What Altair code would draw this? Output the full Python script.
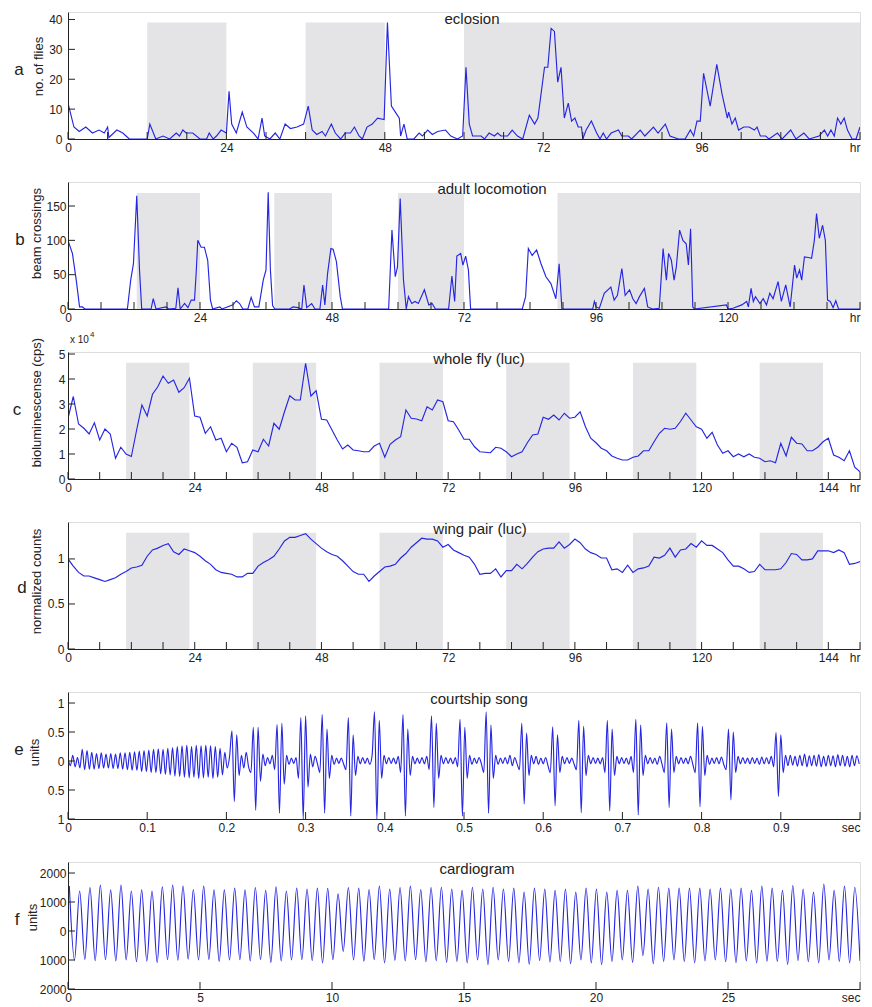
import altair as alt
import pandas as pd

FONT = "Liberation Sans"
LINE = "#2626e2"
SHADE = "#e4e4e7"
INK = "#222222"
W, H = 792, 127
TICK = 7

# ---------------- a : eclosion (hr, no. of flies) ----------------
ecl_points = [
    (0, 12), (0.9, 4), (1.7, 2.5), (2.7, 4), (3.7, 2), (4.7, 3), (5.5, 2), (6, 4), (6.2, 0.5), (7.4, 3),
    (8.3, 2), (8.8, 1), (9.3, 0), (12, 0), (12.4, 5), (13.3, 0), (14.4, 1), (15.4, 0), (16.4, 2), (16.9, 1),
    (17.4, 3), (17.9, 2), (18.9, 2), (20, 0), (21, 0), (21.4, 2), (22, 0), (22.5, 1), (23.2, 3), (24, 2),
    (24.4, 16), (24.8, 5), (25.5, 2), (26.4, 9), (27.1, 4), (28.1, 2), (28.8, 0), (29.4, 7), (29.8, 1), (30.6, 0),
    (31.4, 2), (32.1, 0), (32.9, 5), (33.7, 3.5), (34.7, 4), (35.7, 5), (36.4, 11), (37, 3), (37.7, 1.5), (38.5, 2.5),
    (39, 1), (39.9, 5), (40.5, 2), (41.3, 0), (42, 2), (42.8, 2), (43.4, 4), (44.1, 1), (44.6, 0), (45.3, 4),
    (46.1, 5), (46.9, 7), (47.9, 6.5), (48.4, 39), (49, 11), (49.6, 9), (50.2, 7), (50.4, 1), (50.9, 5), (51.4, 0),
    (52.4, 0), (53.2, 2), (53.7, 1), (54.5, 3), (55.2, 1.5), (56, 2.5), (57.2, 3), (58, 1), (59, 0), (59.8, 1),
    (60.3, 24), (60.8, 5), (61.3, 1), (62.6, 1), (63.1, 0), (63.8, 2), (64.6, 1), (65.1, 2), (65.6, 1), (66.6, 1),
    (67.3, 3), (68.1, 1), (68.9, 0), (69.9, 8), (70.7, 5), (71.2, 7), (72.2, 24), (72.7, 24), (73.2, 37), (73.7, 36),
    (74.2, 19), (74.7, 24), (75.2, 7), (75.8, 12), (76.3, 6), (76.8, 7), (77.3, 4), (77.8, 4), (78.0, 0), (78.5, 3),
    (79.3, 6), (80.1, 2), (80.6, 0), (81.1, 2), (81.6, 0), (82.3, 2), (83.4, 3), (83.9, 1), (84.9, 1), (85.4, 0),
    (86.7, 3), (87.4, 1), (88.7, 4), (89.4, 2), (90.5, 5), (91.2, 1), (92.5, 0), (93.5, 0), (94.3, 3), (94.8, 1),
    (95.3, 6), (95.8, 6), (96.3, 22), (97.3, 11), (98.3, 25), (99.1, 15), (99.9, 7), (100.1, 9), (100.6, 5), (101.1, 7),
    (101.6, 3), (102.4, 4), (103.2, 4), (104, 3), (104.4, 4), (104.9, 1), (105.7, 1), (106.2, 0), (107.5, 2), (108.2, 0),
    (109.5, 3), (110.3, 0), (111.5, 2), (112.3, 0), (113.8, 1), (114.6, 3), (115.1, 1), (115.6, 3), (116.1, 1), (116.6, 7),
    (117.1, 5), (117.6, 7), (118.1, 3), (118.8, 0), (119.4, 0), (120, 4),
]
ecl_dark_start = [12, 36, 60]
ecl_dark_end = [24, 48, 120]
ecl_dark_top = 39

# ---------------- b : adult locomotion (hr, beam crossings) ----------------
loc_points = [
    (0, 100), (0.8, 81), (1.5, 42), (2.1, 3), (2.6, 3), (3.1, 0), (10.8, 0), (11.4, 42), (11.9, 66), (12.5, 165),
    (13, 57), (13.4, 0), (15.1, 0), (15.5, 15), (16, 0), (17.8, 3), (18.3, 0), (19.6, 1), (20, 31), (20.4, 0),
    (21.2, 8), (21.8, 2), (22.4, 13), (23, 13), (23.3, 52), (23.6, 100), (24.2, 90), (24.8, 90), (25.4, 71), (25.9, 13),
    (26.3, 0), (27.6, 3), (28, 0), (30, 6), (30.6, 12), (31.2, 8), (31.8, 0), (32.7, 0), (33.3, 17), (33.9, 3),
    (34.7, 3), (35.5, 42), (36, 57), (36.4, 170), (36.8, 57), (37.2, 5), (37.6, 0), (40.3, 0), (40.9, 3), (41.8, 2),
    (42.5, 0), (42.9, 35), (43.4, 2), (44.3, 8), (44.9, 0), (45.8, 0), (46.3, 35), (46.7, 6), (47.2, 52), (47.8, 88),
    (48.2, 87), (48.8, 69), (49.5, 18), (49.9, 0), (58.3, 0), (58.9, 115), (59.5, 47), (59.9, 61), (60.4, 161), (61, 42),
    (61.5, 0), (61.9, 18), (62.5, 8), (63.1, 11), (63.7, 8), (64.8, 28), (65.6, 6), (66.2, 8), (66.8, 0), (69.2, 0),
    (69.8, 48), (70.3, 11), (70.7, 77), (71.4, 81), (71.8, 64), (72.3, 77), (72.8, 57), (73.2, 0), (82.6, 0), (83.2, 18),
    (83.7, 88), (84.4, 78), (85.2, 86), (86, 66), (86.9, 47), (87.8, 37), (88.7, 15), (89.3, 66), (89.8, 0), (95.4, 0),
    (95.7, 11), (96, 3), (96.6, 1), (97.5, 23), (98.7, 32), (99.3, 13), (99.9, 20), (100.7, 59), (101.3, 20), (102.1, 28),
    (102.7, 15), (103.3, 8), (103.9, 18), (104.8, 30), (105.4, 3), (106.3, 0), (107.5, 1), (108.2, 88), (108.8, 42), (109.2, 81),
    (109.7, 71), (110.2, 42), (110.6, 61), (111.2, 115), (111.8, 100), (112.4, 95), (112.8, 64), (113.2, 117), (113.6, 3), (113.9, 0),
    (119.7, 6), (120, 0), (120.9, 1), (122.5, 6), (123.4, 11), (123.7, 3), (124.2, 30), (124.6, 11), (125, 18), (125.8, 8),
    (126.4, 15), (127, 6), (127.6, 23), (128.2, 15), (129.1, 40), (129.7, 11), (130.5, 35), (131.3, 3), (132.1, 64), (132.5, 45),
    (133, 57), (133.4, 42), (133.9, 76), (134.6, 75), (135.2, 74), (135.7, 100), (136.1, 139), (136.6, 103), (137.2, 122), (137.7, 100),
    (138.1, 13), (138.6, 11), (139.1, 2), (139.6, 12), (140.1, 0), (144, 0),
]
loc_dark_start = [12.5, 37.5, 60, 89]
loc_dark_end = [24, 48, 72, 144]
loc_dark_top = 169

# ---------------- c : whole fly (luc), hourly, x 10^4 cps ----------------
fly_v = [
    2.43, 3.3, 2.2, 2.03, 1.8, 2.25, 1.56, 2.0, 1.8, 0.83, 1.27, 1.0,
    0.9, 1.96, 2.96, 2.52, 3.39, 3.69, 4.12, 3.83, 3.96, 3.47, 3.65, 4.03,
    2.52, 2.47, 1.83, 2.09, 1.56, 1.63, 1.09, 1.43, 1.27, 0.65, 0.69, 1.16,
    1.09, 1.59, 1.32, 2.23, 1.99, 2.69, 3.33, 3.16, 3.16, 4.63, 3.32, 3.53,
    2.39, 2.36, 1.96, 1.56, 1.2, 1.36, 1.16, 1.13, 1.09, 1.09, 1.32, 1.43,
    0.87, 1.39, 1.56, 1.69, 2.76, 2.43, 2.4, 2.33, 2.89, 2.76, 3.16, 3.09,
    2.33, 2.29, 1.96, 1.59, 1.59, 1.29, 1.09, 1.07, 1.05, 1.27, 1.23, 1.09,
    0.89, 1.0, 1.09, 1.45, 1.76, 1.8, 2.47, 2.39, 2.56, 2.36, 2.63, 2.43,
    2.47, 2.69, 2.09, 1.63, 1.45, 1.23, 1.13, 0.92, 0.83, 0.76, 0.76, 0.87,
    0.92, 1.13, 1.13, 1.49, 1.83, 2.03, 1.99, 2.03, 2.3, 2.63, 2.36, 2.09,
    1.99, 1.63, 1.87, 1.36, 1.03, 1.13, 0.89, 1.0, 0.89, 1.0, 0.87, 0.83,
    0.69, 0.73, 0.65, 1.43, 0.92, 1.67, 1.43, 1.4, 1.13, 1.13, 1.27, 1.49,
    1.63, 0.96, 0.87, 0.73, 1.13, 0.47, 0.29,
]
luc_dark_start = [11, 35, 59, 83, 107, 131]
luc_dark_end = [23, 47, 71, 95, 119, 143]
fly_dark_top = 4.65

# ---------------- d : wing pair (luc), hourly, normalized ----------------
wing_v = [
    1.0, 0.92, 0.85, 0.81, 0.81, 0.79, 0.77, 0.75, 0.77, 0.79, 0.83, 0.86,
    0.9, 0.91, 0.93, 1.03, 1.1, 1.12, 1.15, 1.17, 1.08, 1.05, 1.11, 1.09,
    1.07, 1.03, 0.98, 0.94, 0.88, 0.85, 0.84, 0.83, 0.8, 0.8, 0.84, 0.84,
    0.92, 0.96, 0.99, 1.03, 1.11, 1.2, 1.24, 1.24, 1.26, 1.28, 1.22, 1.17,
    1.12, 1.08, 1.05, 1.03, 0.98, 0.92, 0.86, 0.83, 0.83, 0.75, 0.81, 0.86,
    0.91, 0.92, 0.94, 1.01, 1.06, 1.13, 1.18, 1.23, 1.22, 1.22, 1.2, 1.13,
    1.16, 1.1, 1.07, 1.04, 1.02, 0.94, 0.83, 0.84, 0.84, 0.89, 0.8, 0.87,
    0.87, 0.94, 0.89, 0.95, 1.02, 1.08, 1.11, 1.12, 1.12, 1.19, 1.12, 1.16,
    1.22, 1.18, 1.11, 1.07, 1.05, 1.01, 1.01, 0.88, 0.89, 0.85, 0.93, 0.85,
    0.89, 0.9, 0.92, 1.02, 1.01, 1.04, 1.12, 1.02, 1.1, 1.11, 1.17, 1.13,
    1.2, 1.15, 1.15, 1.11, 1.07, 0.99, 0.92, 0.92, 0.89, 0.85, 0.86, 0.94,
    0.88, 0.88, 0.88, 0.89, 0.96, 1.06, 1.05, 0.99, 0.99, 1.0, 1.09, 1.09,
    1.09, 1.07, 1.1, 1.07, 0.94, 0.95, 0.97,
]
wing_dark_top = 1.29

# ---------------- e : courtship song (sampled every 3 ms) ----------------
song_dt = 0.003
song_v = [
    0.05, -0.08, 0.10, -0.10, 0.06, -0.12, 0.20, -0.15, 0.18, -0.14,
    0.15, -0.14, 0.13, -0.13, 0.14, -0.12, 0.12, -0.12, 0.13, -0.13,
    0.12, -0.13, 0.14, -0.14, 0.14, -0.15, 0.15, -0.16, 0.16, -0.16,
    0.17, -0.18, 0.18, -0.18, 0.19, -0.20, 0.20, -0.20, 0.21, -0.22,
    0.20, -0.23, 0.22, -0.24, 0.23, -0.26, 0.25, -0.27, 0.26, -0.28,
    0.27, -0.29, 0.25, -0.28, 0.27, -0.30, 0.26, -0.29, 0.27, -0.28,
    0.26, -0.30, 0.25, -0.28, 0.22, -0.24, 0.15, -0.12, 0.08, 0.52,
    -0.70, 0.45, -0.25, 0.10, -0.12, 0.15, -0.10, -0.20, 0.58, -0.85,
    0.58, -0.35, 0.12, -0.08, 0.06, -0.05, 0.10, -0.15, 0.63, -0.90,
    0.65, -0.40, 0.10, -0.06, 0.05, -0.04, 0.06, -0.30, 0.75, -1.00,
    0.78, -0.45, 0.12, -0.10, 0.08, -0.05, -0.20, 0.80, -0.90, 0.55,
    -0.30, 0.10, -0.06, 0.05, -0.04, 0.05, -0.05, -0.15, 0.75, -0.95,
    0.45, -0.25, 0.08, -0.05, 0.06, -0.04, 0.05, -0.06, 0.10, 0.85,
    -1.00, 0.70, -0.30, 0.10, -0.05, 0.06, -0.04, 0.05, -0.05, 0.08,
    -0.20, 0.80, -0.95, 0.55, -0.25, 0.08, -0.05, 0.05, -0.04, 0.06,
    -0.05, 0.08, -0.15, 0.78, -0.80, 0.65, -0.30, 0.10, -0.05, 0.06,
    -0.04, 0.05, -0.05, 0.06, -0.10, 0.72, -0.95, 0.58, -0.30, 0.10,
    -0.06, 0.05, -0.04, 0.06, -0.05, -0.20, 0.85, -0.90, 0.62, -0.30,
    0.10, -0.06, 0.05, -0.04, 0.06, -0.05, 0.10, -0.08, 0.06, -0.05,
    -0.15, 0.65, -0.74, 0.48, -0.25, 0.10, -0.05, 0.08, -0.06, 0.05,
    -0.05, 0.06, -0.08, -0.20, 0.59, -0.77, 0.45, -0.20, 0.08, -0.05,
    0.06, -0.04, 0.05, -0.05, -0.15, 0.70, -0.89, 0.60, -0.25, 0.10,
    -0.05, 0.06, -0.04, 0.05, -0.05, 0.06, -0.20, 0.70, -0.86, 0.55,
    -0.25, 0.08, -0.05, 0.06, -0.04, 0.05, -0.06, 0.08, -0.20, 0.72,
    -0.93, 0.62, -0.25, 0.10, -0.05, 0.06, -0.04, 0.05, -0.06, 0.08,
    -0.05, -0.20, 0.66, -0.80, 0.55, -0.20, 0.08, -0.05, 0.06, -0.04,
    0.05, -0.05, 0.08, -0.06, -0.20, 0.66, -0.79, 0.60, -0.25, 0.10,
    -0.06, 0.05, -0.04, 0.06, -0.05, 0.07, -0.06, -0.15, 0.55, -0.67,
    0.50, -0.20, 0.08, -0.05, 0.06, -0.04, 0.05, -0.05, 0.06, -0.04,
    0.05, -0.06, 0.07, -0.05, 0.06, -0.05, 0.08, -0.10, 0.49, -0.61,
    0.45, -0.20, 0.10, -0.08, 0.10, -0.07, 0.08, -0.09, 0.10, -0.08,
    0.12, -0.10, 0.09, -0.08, 0.10, -0.09, 0.11, -0.10, 0.08, -0.09,
    0.10, -0.08, 0.09, -0.10, 0.11, -0.08, 0.10, -0.09, 0.08, -0.10,
    0.10, -0.08, 0.09, -0.05,
]

# ---------------- f : cardiogram (beat maxima / minima) ----------------
cardio_peaks = [
    1550, 1380, 1500, 1580, 1420, 1580, 1380, 1420, 1380, 1520,
    1580, 1550, 1430, 1550, 1420, 1420, 1480, 1420, 1500, 1400,
    1520, 1380, 1480, 1450, 1480, 1470, 1280, 1500, 1480, 1430,
    1550, 1450, 1500, 1550, 1430, 1500,
    1510, 1450, 1400, 1510, 1450, 1510, 1450, 1480, 1340, 1480,
    1450, 1400, 1450, 1340, 1480, 1450, 1340, 1400, 1400, 1550,
    1450, 1510, 1480, 1480, 1480, 1480, 1450, 1480, 1450, 1480,
    1400, 1550, 1480, 1400, 1570, 1450, 1340, 1620, 1400, 1550, 1510,
]
cardio_troughs = [
    -1000, -980, -1020, -990, -1030, -1000, -1060, -1040, -1080, -990,
    -1010, -970, -1000, -980, -1050, -1000, -990, -1030, -980, -1080,
    -1040, -1000, -990, -1020, -1100, -990, -700, -1000, -1040, -990,
    -1100, -1010, -1030, -990, -1060, -1020, -1080,
    -1050, -1100, -1000, -1160, -1000, -1050, -1100, -1150, -1020, -1070,
    -1050, -1130, -1000, -1100, -1160, -1050, -1000, -1080, -850, -1130,
    -1050, -1000, -1050, -1100, -1030, -1000, -1060, -1090, -1030, -1100,
    -1040, -1050, -1150, -1020, -1060, -1100, -1000, -1050, -1100, -1030, 200,
]
cardio_t0 = 0.05
cardio_t_end = 30.0


def build_panel(line_df, xdom, ydom, xlabels, xticks, end_val, end_txt, yvals, yabs,
                ytitle, ytitle_xy, letter, letter_xy, title, title_x,
                dark=None, interp="linear", extras=(), ypad=5):
    xs = alt.Scale(domain=xdom, nice=False, zero=False)
    ys = alt.Scale(domain=ydom, nice=False, zero=False)
    xaxis = alt.Axis(
        values=xlabels,
        labelExpr=f"datum.value == {end_val} ? '{end_txt}' : format(datum.value, '~g')",
        labelAlign={"condition": {"test": f"datum.value == {end_val}", "value": "right"},
                    "value": "center"},
        ticks=False, grid=False, domainColor=INK, domainWidth=1,
        labelColor=INK, labelFont=FONT, labelFontSize=12, labelPadding=3,
        labelFlush=False, labelOverlap=False, title=None, zindex=1,
    )
    yexpr = "format(abs(datum.value), '~g')" if yabs else "format(datum.value, '~g')"
    yaxis = alt.Axis(
        values=yvals, labelExpr=yexpr,
        ticks=False, grid=False, domainColor=INK, domainWidth=1,
        labelColor=INK, labelFont=FONT, labelFontSize=12, labelPadding=ypad,
        labelOverlap=False, title=ytitle, titleFont=FONT, titleFontSize=13,
        titleFontWeight="normal", titleColor=INK, titleAngle=270,
        titleAlign="center", titleBaseline="middle",
        titleX=ytitle_xy[0], titleY=ytitle_xy[1], zindex=1,
    )
    layers = []
    if dark is not None:
        starts, ends, top = dark
        ddf = pd.DataFrame({"t": starts, "t2": ends,
                            "lo": [ydom[0]] * len(starts), "hi": [top] * len(starts)})
        layers.append(
            alt.Chart(ddf).mark_rect(color=SHADE).encode(
                x=alt.X("t:Q", scale=xs, axis=xaxis), x2="t2:Q",
                y=alt.Y("lo:Q", scale=ys, axis=yaxis), y2="hi:Q")
        )
    layers.append(
        alt.Chart(line_df).mark_line(color=LINE, strokeWidth=1.15, clip=True,
                                     interpolate=interp).encode(
            x=alt.X("t:Q", scale=xs, axis=xaxis),
            y=alt.Y("v:Q", scale=ys, axis=yaxis))
    )
    layers.append(
        alt.Chart(pd.DataFrame({"t": xticks})).mark_rule(color=INK, strokeWidth=1).encode(
            x=alt.X("t:Q", scale=xs, axis=xaxis),
            y=alt.value(H), y2=alt.value(H - TICK))
    )
    layers.append(
        alt.Chart(pd.DataFrame({"v": yvals})).mark_rule(color=INK, strokeWidth=1).encode(
            y=alt.Y("v:Q", scale=ys, axis=yaxis),
            x=alt.value(0), x2=alt.value(TICK))
    )
    layers.append(
        alt.Chart(pd.DataFrame({"s": [title]})).mark_text(
            font=FONT, fontSize=15, color=INK, align="center", baseline="middle").encode(
            text="s:N", x=alt.value(title_x), y=alt.value(7))
    )
    layers.append(
        alt.Chart(pd.DataFrame({"s": [letter]})).mark_text(
            font=FONT, fontSize=17, color=INK, align="center", baseline="middle").encode(
            text="s:N", x=alt.value(letter_xy[0]), y=alt.value(letter_xy[1]))
    )
    layers.extend(extras)
    return alt.layer(*layers).properties(width=W, height=H)


# ---- data frames ----
a_df = pd.DataFrame(ecl_points, columns=["t", "v"])
b_df = pd.DataFrame(loc_points, columns=["t", "v"])
c_df = pd.DataFrame({"t": list(range(len(fly_v))), "v": fly_v})
d_df = pd.DataFrame({"t": list(range(len(wing_v))), "v": wing_v})
e_df = pd.DataFrame({"t": [i * song_dt for i in range(len(song_v))], "v": song_v})
cardio_v = []
for p, tr in zip(cardio_peaks, cardio_troughs):
    cardio_v += [p, tr]
cardio_step = (cardio_t_end - cardio_t0) / (len(cardio_v) - 1)
f_df = pd.DataFrame({"t": [cardio_t0 + i * cardio_step for i in range(len(cardio_v))], "v": cardio_v})

hr6_120 = list(range(0, 121, 6))
hr6_144 = list(range(0, 145, 6))
hr6_150 = list(range(0, 145, 6)) + [150]

pa = build_panel(a_df, [0, 120], [0, 42.5], [0, 24, 48, 72, 96, 120], hr6_120, 120, "hr",
                 [0, 10, 20, 30, 40], False, "no. of flies", (-30, 54), "a", (-49, 58),
                 "eclosion", 404, dark=(ecl_dark_start, ecl_dark_end, ecl_dark_top), ypad=6)
pb = build_panel(b_df, [0, 144], [0, 185], [0, 24, 48, 72, 96, 120, 144], hr6_144, 144, "hr",
                 [0, 50, 100, 150], False, "beam crossings", (-32, 51), "b", (-48, 58),
                 "adult locomotion", 424, dark=(loc_dark_start, loc_dark_end, loc_dark_top), ypad=2)

exp_layers = [
    alt.Chart(pd.DataFrame({"s": ["x 10"]})).mark_text(
        font=FONT, fontSize=10, color=INK, align="left", baseline="middle").encode(
        text="s:N", x=alt.value(2), y=alt.value(-12)),
    alt.Chart(pd.DataFrame({"s": ["4"]})).mark_text(
        font=FONT, fontSize=8, color=INK, align="left", baseline="middle").encode(
        text="s:N", x=alt.value(22), y=alt.value(-17)),
]
pc = build_panel(c_df, [0, 150], [0, 5.08], [0, 24, 48, 72, 96, 120, 144, 150], hr6_150, 150, "hr",
                 [0, 1, 2, 3, 4, 5], False, "bioluminescense (cps)", (-32, 50), "c", (-51, 58),
                 "whole fly (luc)", 411, dark=(luc_dark_start, luc_dark_end, fly_dark_top),
                 extras=exp_layers, ypad=3)
pd_ = build_panel(d_df, [0, 150], [0, 1.41], [0, 24, 48, 72, 96, 120, 144, 150], hr6_150, 150, "hr",
                  [0, 0.5, 1], False, "normalized counts", (-32, 59), "d", (-46, 66),
                  "wing pair (luc)", 412, dark=(luc_dark_start, luc_dark_end, wing_dark_top), ypad=4)
pe = build_panel(e_df, [0, 1], [-1, 1.19],
                 [0, 0.1, 0.2, 0.3, 0.4, 0.5, 0.6, 0.7, 0.8, 0.9, 1],
                 [0, 0.1, 0.2, 0.3, 0.4, 0.5, 0.6, 0.7, 0.8, 0.9, 1], 1, "sec",
                 [-1, -0.5, 0, 0.5, 1], True, "units", (-34, 60), "e", (-49, 58),
                 "courtship song", 411, interp="monotone", ypad=4)
pf = build_panel(f_df, [0, 30], [-2000, 2380], [0, 5, 10, 15, 20, 25, 30], [0, 5, 10, 15, 20, 25, 30],
                 30, "sec", [-2000, -1000, 0, 1000, 2000], True, "units", (-36, 55), "f", (-51, 58),
                 "cardiogram", 409, interp="monotone", ypad=2)

chart = alt.vconcat(pa, pb, pc, pd_, pe, pf, spacing=43, bounds="flush").properties(
    padding={"left": 4, "top": 3, "right": 0, "bottom": 0}
).configure_view(stroke=None).configure(font=FONT)

chart.save("out.html", embed_options={"renderer": "svg", "actions": False})
